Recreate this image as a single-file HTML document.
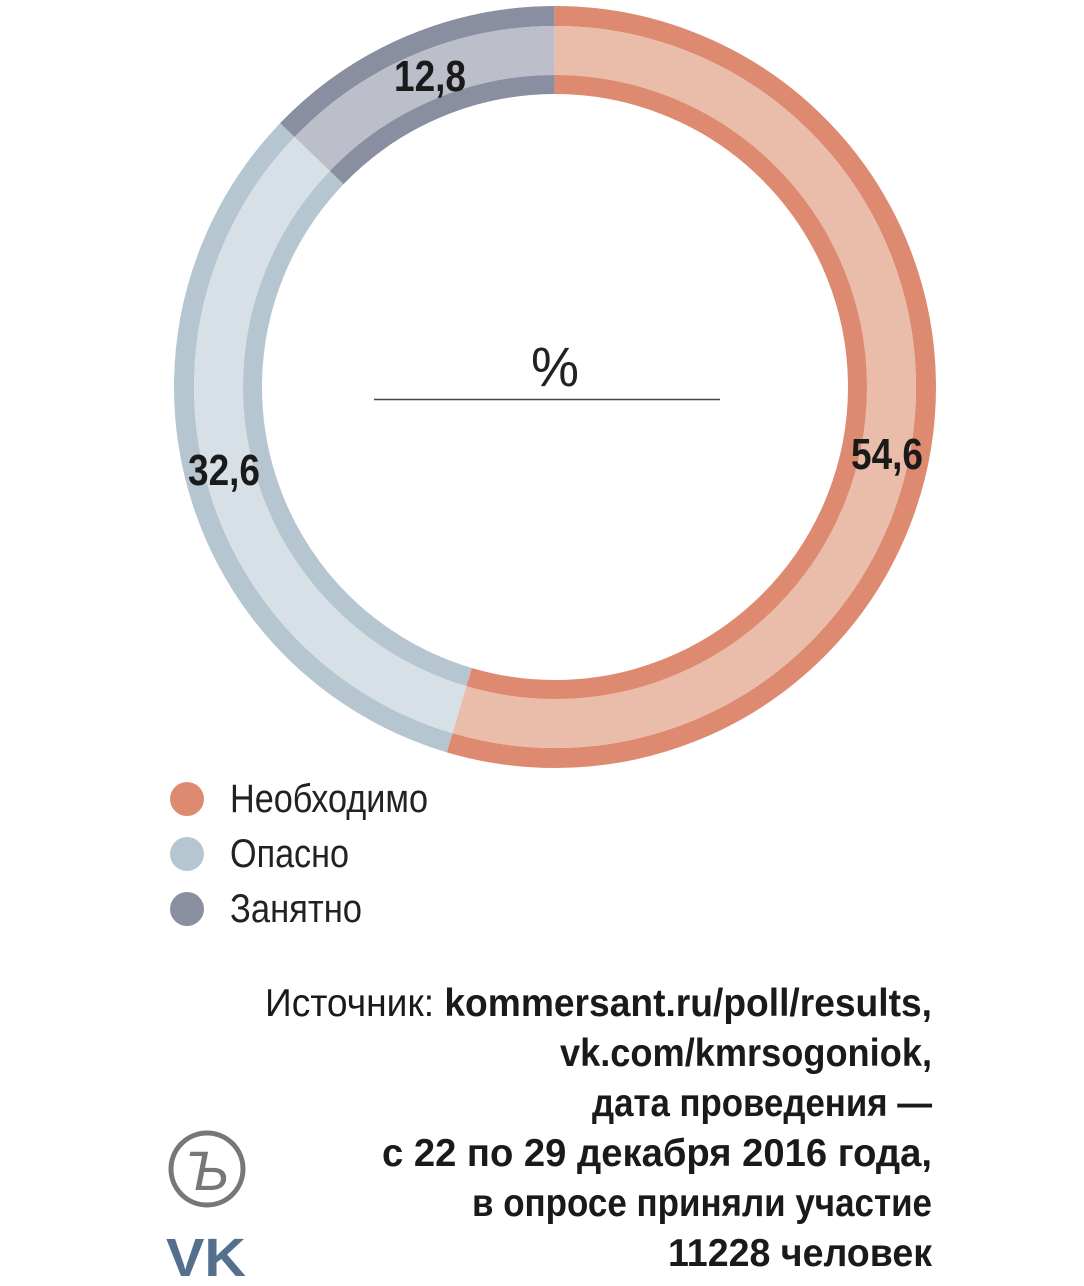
<!DOCTYPE html>
<html><head><meta charset="utf-8"><style>
html,body{margin:0;padding:0;background:#fff;}
body{width:1084px;height:1286px;overflow:hidden;position:relative;}
svg{position:absolute;left:0;top:0;}
text{font-family:"Liberation Sans Narrow","Liberation Sans",sans-serif;}
</style></head><body>
<svg width="1084" height="1286" viewBox="0 0 1084 1286">
<g transform="rotate(-90 555 387)" fill="none">
 <circle cx="555" cy="387" r="371" stroke="#de8a70" stroke-width="20" pathLength="100" stroke-dasharray="54.6 45.4"/>
 <circle cx="555" cy="387" r="336.5" stroke="#eabdab" stroke-width="49" pathLength="100" stroke-dasharray="54.6 45.4"/>
 <circle cx="555" cy="387" r="302.5" stroke="#de8a70" stroke-width="19" pathLength="100" stroke-dasharray="54.6 45.4"/>
 <circle cx="555" cy="387" r="371" stroke="#b5c6d0" stroke-width="20" pathLength="100" stroke-dasharray="0 54.6 32.6 12.8"/>
 <circle cx="555" cy="387" r="336.5" stroke="#d7e0e6" stroke-width="49" pathLength="100" stroke-dasharray="0 54.6 32.6 12.8"/>
 <circle cx="555" cy="387" r="302.5" stroke="#b5c6d0" stroke-width="19" pathLength="100" stroke-dasharray="0 54.6 32.6 12.8"/>
 <circle cx="555" cy="387" r="371" stroke="#898ea0" stroke-width="20" pathLength="100" stroke-dasharray="0 87.2 12.8 0"/>
 <circle cx="555" cy="387" r="336.5" stroke="#bcbfca" stroke-width="49" pathLength="100" stroke-dasharray="0 87.2 12.8 0"/>
 <circle cx="555" cy="387" r="302.5" stroke="#898ea0" stroke-width="19" pathLength="100" stroke-dasharray="0 87.2 12.8 0"/>
</g>
<g font-weight="bold" font-size="44" fill="#1a1a1a" lengthAdjust="spacingAndGlyphs">
 <text x="394" y="91" textLength="72" lengthAdjust="spacingAndGlyphs">12,8</text>
 <text x="851" y="469" textLength="72" lengthAdjust="spacingAndGlyphs">54,6</text>
 <text x="188" y="485" textLength="72" lengthAdjust="spacingAndGlyphs">32,6</text>
</g>
<text x="531" y="386" font-size="56" fill="#222" textLength="48" lengthAdjust="spacingAndGlyphs">%</text>
<line x1="374" y1="399.5" x2="720" y2="399.5" stroke="#444" stroke-width="1.5"/>
<circle cx="187" cy="799" r="17" fill="#de8a70"/>
<circle cx="187" cy="854" r="17" fill="#b5c6d0"/>
<circle cx="187" cy="909" r="17" fill="#898ea0"/>
<g font-size="40" fill="#222">
 <text x="230" y="812" textLength="198" lengthAdjust="spacingAndGlyphs">Необходимо</text>
 <text x="230" y="867" textLength="119" lengthAdjust="spacingAndGlyphs">Опасно</text>
 <text x="230" y="922" textLength="132" lengthAdjust="spacingAndGlyphs">Занятно</text>
</g>
<g font-size="39" fill="#1a1a1a" font-weight="bold">
 <text x="265" y="1016" textLength="667" lengthAdjust="spacingAndGlyphs"><tspan font-weight="normal">Источник: </tspan>kommersant.ru/poll/results,</text>
 <text x="560" y="1066" textLength="372" lengthAdjust="spacingAndGlyphs">vk.com/kmrsogoniok,</text>
 <text x="592" y="1116" textLength="340" lengthAdjust="spacingAndGlyphs">дата проведения —</text>
 <text x="382" y="1166" textLength="550" lengthAdjust="spacingAndGlyphs">с 22 по 29  декабря 2016 года,</text>
 <text x="472" y="1216" textLength="460" lengthAdjust="spacingAndGlyphs">в опросе приняли участие</text>
 <text x="668" y="1266" textLength="264" lengthAdjust="spacingAndGlyphs">11228 человек</text>
</g>
<circle cx="207" cy="1169" r="36" fill="none" stroke="#777" stroke-width="5"/>
<text x="207" y="1190" font-family="Liberation Serif,serif" font-style="italic" font-size="56" fill="#777" text-anchor="middle">Ъ</text>
<text x="166" y="1276" font-family="Liberation Sans,sans-serif" font-weight="bold" font-size="54" fill="#55708f" textLength="80" lengthAdjust="spacingAndGlyphs">VK</text>
</svg>
</body></html>
